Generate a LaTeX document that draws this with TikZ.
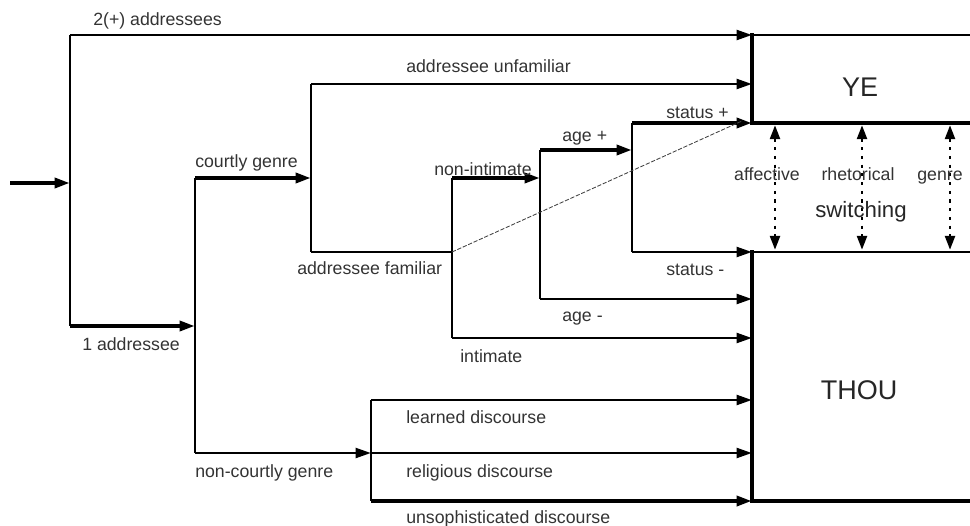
\documentclass[tikz,border=0pt]{standalone}
\usepackage{fontspec}
\setmainfont{Liberation Sans}
\usetikzlibrary{arrows.meta,positioning,calc}

\begin{document}
\begin{tikzpicture}[x=0.025cm, y=-0.025cm,
    wire/.style={line width=1.4pt},
    bar/.style={line width=2pt},
    feed/.style={line width=2pt, -{Triangle[length=11pt,width=7pt]}},
    heavy/.style={feed, line width=2.8pt},
    rim/.style={line width=1.9pt},
    edgeline/.style={line width=3.5pt, line cap=rect},
    swt/.style={line width=2pt, dash pattern=on 2.2pt off 4pt,
                {Triangle[length=10pt,width=7pt]}-{Triangle[length=10pt,width=7pt]},
                shorten <=1.5pt, shorten >=1.5pt},
    lbl/.style={anchor=base west, inner sep=0pt, text=black!80,
                font=\fontsize{12.6}{14}\selectfont},
    big/.style={anchor=base, inner sep=0pt, text=black!85,
                font=\fontsize{19.2}{22}\selectfont}]
  \useasboundingbox (0,0) rectangle (970,525);

  % branch points
  \coordinate (entry) at (10,183);
  \coordinate (root-top) at (70,35);
  \coordinate (root) at (70,183);
  \coordinate (root-bot) at (70,326);
  \coordinate (genre-top) at (195,178);
  \coordinate (genre-mid) at (195,326);
  \coordinate (genre-bot) at (195,453);
  \coordinate (fam-top) at (311,84);
  \coordinate (fam-mid) at (311,178);
  \coordinate (fam-bot) at (311,252);
  \coordinate (int-top) at (452,178);
  \coordinate (int-mid) at (452,252);
  \coordinate (int-bot) at (452,338);
  \coordinate (age-top) at (540,150);
  \coordinate (age-mid) at (540,178);
  \coordinate (age-bot) at (540,299);
  \coordinate (stat-top) at (632,123);
  \coordinate (stat-mid) at (632,150);
  \coordinate (stat-bot) at (632,252);
  \coordinate (disc-top) at (371,400);
  \coordinate (disc-mid) at (371,453);
  \coordinate (disc-bot) at (371,501);
  \coordinate (dash-end) at (742,121);

  % pronoun boxes
  \coordinate (ye-nw) at (752,35);
  \coordinate (ye-sw) at (752,123);
  \coordinate (thou-nw) at (752,252);
  \coordinate (thou-sw) at (752,501);
  \coordinate (edge) at (970,0);

  \draw[rim] (ye-nw) -- (ye-nw -| edge);
  \draw[line width=3pt] (ye-sw) -- (ye-sw -| edge);
  \draw[edgeline] (ye-nw) -- (ye-sw);
  \draw[rim] (thou-nw) -- (thou-nw -| edge);
  \draw[line width=2.4pt] (thou-sw) -- (thou-sw -| edge);
  \draw[edgeline] (thou-nw) -- (thou-sw);

  \node[big] (ye) at (860,97) {YE};
  \node[big] (thou) at (859,399) {THOU};

  % tree
  \draw[heavy] (entry) -- (root);
  \draw[wire] (root-top) -- (root-bot);
  \draw[feed] (root-top) -- (ye-nw);
  \draw[heavy] (root-bot) -- (genre-mid);

  \draw[wire] (genre-top) -- (genre-bot);
  \draw[heavy] (genre-top) -- (fam-mid);
  \draw[feed] (genre-bot) -- (disc-mid);

  \draw[wire] (fam-top) -- (fam-bot);
  \draw[feed] (fam-top) -- (fam-top -| ye-nw);
  \draw[bar] (fam-bot) -- (int-mid);

  \draw[wire] (int-top) -- (int-bot);
  \draw[heavy] (int-top) -- (age-mid);
  \draw[feed] (int-bot) -- (int-bot -| thou-nw);

  \draw[wire] (age-top) -- (age-bot);
  \draw[heavy] (age-top) -- (stat-mid);
  \draw[feed] (age-bot) -- (age-bot -| thou-nw);

  \draw[wire] (stat-top) -- (stat-bot);
  \draw[heavy] (stat-top) -- (ye-sw);
  \draw[feed] (stat-bot) -- (thou-nw);

  \draw[wire] (disc-top) -- (disc-bot);
  \draw[feed] (disc-top) -- (disc-top -| thou-nw);
  \draw[feed] (disc-mid) -- (disc-mid -| thou-nw);
  \draw[heavy] (disc-bot) -- (thou-sw);

  \draw[line width=0.6pt, black!75, dash pattern=on 3pt off 1.2pt] (int-mid) -- (dash-end);

  % labels
  \node[lbl] (l-many) at (93,26) {2(+) addressees};
  \node[lbl] (l-one) at (82,350) {1 addressee};
  \node[lbl] (l-court) at (195,167) {courtly genre};
  \node[lbl] (l-noncourt) at (195,477) {non-courtly genre};
  \node[lbl] (l-unfam) at (406,73) {addressee unfamiliar};
  \node[lbl] (l-fam) at (297,274) {addressee familiar};
  \node[lbl] (l-nonint) at (434,175) {non-intimate};
  \node[lbl] (l-int) at (460,362) {intimate};
  \node[lbl] (l-ageup) at (562,142) {age +};
  \node[lbl] (l-agelow) at (562,321) {age -};
  \node[lbl] (l-statup) at (666,119) {status +};
  \node[lbl] (l-statlow) at (666,275) {status -};
  \node[lbl] (l-learned) at (406,423) {learned discourse};
  \node[lbl] (l-relig) at (406,477) {religious discourse};
  \node[lbl] (l-unsoph) at (406,523) {unsophisticated discourse};

  % switching
  \coordinate (sw-aff) at (775,123);
  \coordinate (sw-rhet) at (862,123);
  \coordinate (sw-gen) at (950,123);
  \draw[swt] (sw-aff) -- (sw-aff |- thou-nw);
  \draw[swt] (sw-rhet) -- (sw-rhet |- thou-nw);
  \draw[swt] (sw-gen) -- (sw-gen |- thou-nw);
  \node[lbl, anchor=base] (l-aff) at (767,180) {affective};
  \node[lbl, anchor=base] (l-rhet) at (858,180) {rhetorical};
  \node[lbl, anchor=base] (l-gen) at (940,180) {genre};
  \node[big, font=\fontsize{15.8}{18}\selectfont] (l-switch) at (861,217) {switching};
\end{tikzpicture}
\end{document}
